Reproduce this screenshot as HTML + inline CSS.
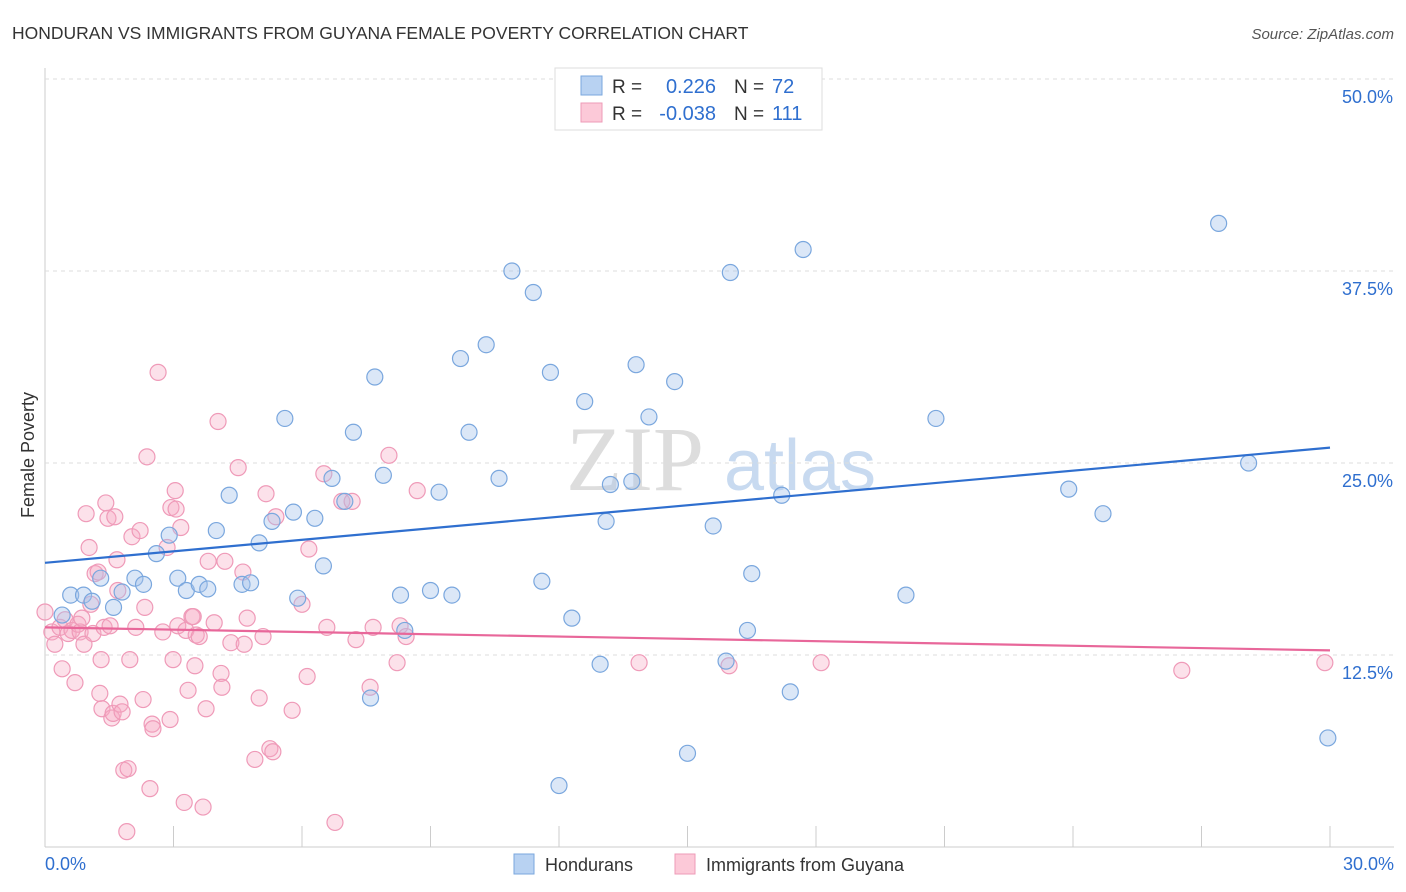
<!DOCTYPE html>
<html><head><meta charset="utf-8"><style>
body{margin:0;background:#fff;font-family:"Liberation Sans",sans-serif}
</style></head><body>
<svg id="c" width="1406" height="892" xmlns="http://www.w3.org/2000/svg" style="display:block">
<text x="12" y="39" font-size="17.5" fill="#333">HONDURAN VS IMMIGRANTS FROM GUYANA FEMALE POVERTY CORRELATION CHART</text>
<text x="1394" y="39" font-size="15" fill="#555" font-style="italic" text-anchor="end">Source: ZipAtlas.com</text>
<text x="635" y="490" font-size="92" fill="#ddd" font-family="Liberation Serif,serif" text-anchor="middle">ZIP</text>
<text x="800" y="490" font-size="72" fill="#c8daf0" text-anchor="middle">atlas</text>
<text transform="translate(34,455) rotate(-90)" font-size="18" fill="#333" text-anchor="middle">Female Poverty</text>
<g id="axes"></g>
<g id="marks"></g>
<g>
<rect x="555" y="68" width="267" height="62" fill="#fff" stroke="#ddd"/>
<rect x="581" y="76" width="21" height="19" fill="#b8d2f2" stroke="#7aa7de"/>
<rect x="581" y="103" width="21" height="19" fill="#fcc9d8" stroke="#ee9bb7"/>
<text x="612" y="93" font-size="19" fill="#333">R =</text>
<text x="716" y="93" font-size="20" fill="#2f6fcf" text-anchor="end">0.226</text>
<text x="734" y="93" font-size="19" fill="#333">N =</text>
<text x="772" y="93" font-size="20" fill="#2f6fcf">72</text>
<text x="612" y="120" font-size="19" fill="#333">R =</text>
<text x="716" y="120" font-size="20" fill="#2f6fcf" text-anchor="end">-0.038</text>
<text x="734" y="120" font-size="19" fill="#333">N =</text>
<text x="772" y="120" font-size="20" fill="#2f6fcf">111</text>
</g>
<g>
<rect x="514" y="854" width="20" height="20" fill="#b8d2f2" stroke="#7aa7de"/>
<text x="545" y="871" font-size="18" fill="#333">Hondurans</text>
<rect x="675" y="854" width="20" height="20" fill="#fcc9d8" stroke="#ee9bb7"/>
<text x="706" y="871" font-size="18" fill="#333">Immigrants from Guyana</text>
</g>
</svg>
<script>
const yTicks=[12.5,25,37.5,50];
const yTickLabels=["12.5%","25.0%","37.5%","50.0%"];
const xTicks=[0,3,6,9,12,15,18,21,24,27,30];
const blueX=[0.4,0.6,0.9,1.1,1.3,1.6,1.8,2.1,2.3,2.6,2.9,3.1,3.3,3.6,3.8,4.0,4.3,4.6,4.8,5.0,5.3,5.6,5.8,5.9,6.3,6.5,6.7,7.0,7.2,7.6,7.7,7.9,8.3,8.4,9.0,9.2,9.5,9.7,9.9,10.3,10.6,10.9,11.4,11.6,11.8,12.0,12.3,12.6,12.96,13.1,13.2,13.7,13.8,14.1,14.7,15.0,15.6,15.9,16.0,16.4,16.5,17.2,17.4,17.7,20.1,20.8,23.9,24.7,27.4,28.1,29.95];
const blueY=[15.1,16.4,16.4,16.0,17.5,15.6,16.6,17.5,17.1,19.1,20.3,17.5,16.7,17.1,16.8,20.6,22.9,17.1,17.2,19.8,21.2,27.9,21.8,16.2,21.4,18.3,24.0,22.5,27.0,9.7,30.6,24.2,16.4,14.1,16.7,23.1,16.4,31.8,27.0,32.7,24.0,37.5,36.1,17.3,30.9,4.0,14.9,29.0,11.9,21.2,23.6,23.8,31.4,28.0,30.3,6.1,20.9,12.1,37.4,14.1,17.8,22.9,10.1,38.9,16.4,27.9,23.3,21.7,40.6,25.0,7.1];
const pinkX=[0,0.16,0.23,0.35,0.4,0.47,0.54,0.63,0.7,0.77,0.82,0.86,0.91,0.96,1.03,1.07,1.12,1.17,1.24,1.28,1.31,1.33,1.38,1.42,1.47,1.52,1.56,1.59,1.63,1.68,1.70,1.75,1.80,1.84,1.91,1.94,1.98,2.03,2.12,2.22,2.29,2.33,2.38,2.45,2.50,2.52,2.64,2.75,2.85,2.92,2.94,2.99,3.04,3.06,3.10,3.17,3.25,3.29,3.34,3.43,3.46,3.50,3.53,3.60,3.69,3.76,3.81,3.95,4.04,4.11,4.13,4.20,4.34,4.51,4.62,4.65,4.72,4.90,5.0,5.09,5.16,5.25,5.32,5.39,5.77,6.0,6.12,6.16,6.51,6.58,6.77,6.93,7.17,7.26,7.59,7.66,8.03,8.22,8.29,8.43,8.69,13.87,15.97,18.12,26.54,29.88];
const pinkY=[15.3,14.0,13.2,14.3,11.6,14.8,13.9,14.1,10.7,14.5,14.0,14.9,13.2,21.7,19.5,15.8,13.9,17.8,17.9,10.0,12.2,9.0,14.3,22.4,21.4,14.4,8.4,8.7,21.5,18.7,16.7,9.3,8.8,5.0,1.0,5.1,12.2,20.2,14.3,20.6,9.6,15.6,25.4,3.8,8.0,7.7,30.9,14.0,19.5,8.3,22.1,12.2,23.2,22.0,14.4,20.8,2.9,14.1,10.2,15.0,15.0,11.8,13.8,13.7,2.6,9.0,18.6,14.6,27.7,11.3,10.4,18.6,13.3,24.7,17.9,13.2,14.9,5.7,9.7,13.7,23.0,6.4,6.2,21.5,8.9,15.8,11.1,19.4,24.3,14.3,1.6,22.5,22.5,13.5,10.4,14.3,25.5,12.0,14.4,13.7,23.2,12.0,11.8,12.0,11.5,12.0];
const blueTrend=[18.5,26.0], pinkTrend=[14.3,12.8];
const X0=45,X1=1330,Y0=847,Y1=79;
const sx=v=>X0+(X1-X0)*v/30, sy=v=>Y0-(Y0-Y1)*v/50;
const NS="http://www.w3.org/2000/svg";
const axes=document.getElementById('axes'), marks=document.getElementById('marks');
function mk(tag,attrs,parent){const e=document.createElementNS(NS,tag);for(const k in attrs)e.setAttribute(k,attrs[k]);parent.appendChild(e);return e;}
let e;
e=mk('line',{x1:X0,y1:68,x2:X0,y2:Y0,stroke:'#ccc'},axes);


e=mk('line',{x1:X0,y1:Y0,x2:1394,y2:Y0,stroke:'#ccc'},axes);


yTicks.forEach((t,i)=>{
 e=mk('line',{x1:X0,y1:sy(t),x2:1394,y2:sy(t),stroke:'#ddd','stroke-dasharray':'4,4'},axes);
 
 
 e=mk('text',{x:1393,y:sy(t)+24,'font-size':18,fill:'#2f6fcf','text-anchor':'end'},axes);
 e.textContent=yTickLabels[i];
 
 
});
xTicks.forEach(t=>{
 e=mk('line',{x1:sx(t),y1:826,x2:sx(t),y2:Y0,stroke:'#ccc'},axes);
 
 
});
e=mk('text',{x:45,y:870,'font-size':18,fill:'#2f6fcf'},axes);e.textContent='0.0%';


e=mk('text',{x:1394,y:870,'font-size':18,fill:'#2f6fcf','text-anchor':'end'},axes);e.textContent='30.0%';


pinkX.forEach((x,i)=>{
 e=mk('circle',{cx:sx(x),cy:sy(pinkY[i]),r:8,fill:'rgba(246,170,196,0.35)',stroke:'#ef9ab8','stroke-width':1.2},marks);
 
 
});
blueX.forEach((x,i)=>{
 e=mk('circle',{cx:sx(x),cy:sy(blueY[i]),r:8,fill:'rgba(164,196,236,0.4)',stroke:'#7aa7de','stroke-width':1.2},marks);
 
 
});
e=mk('line',{x1:sx(0),y1:sy(blueTrend[0]),x2:sx(30),y2:sy(blueTrend[1]),stroke:'#2f6fcf','stroke-width':2.2},marks);


e=mk('line',{x1:sx(0),y1:sy(pinkTrend[0]),x2:sx(30),y2:sy(pinkTrend[1]),stroke:'#e8679a','stroke-width':2.2},marks);


</script>
</body></html>
